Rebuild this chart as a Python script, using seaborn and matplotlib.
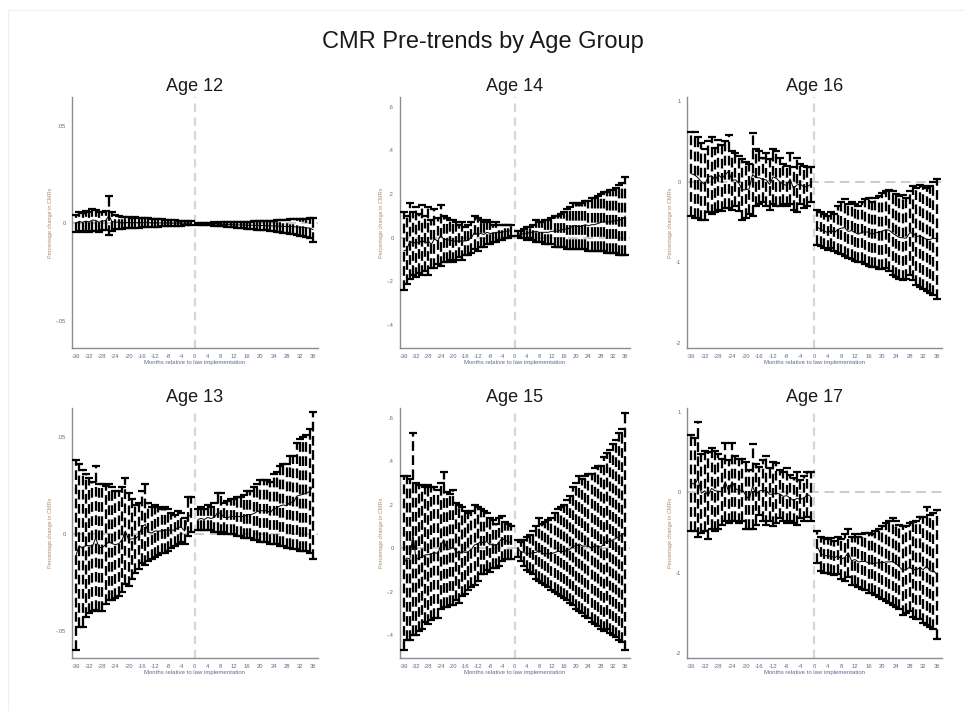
import numpy as np
import pandas as pd
import matplotlib
matplotlib.use("Agg")
import matplotlib.pyplot as plt
from matplotlib.lines import Line2D
import seaborn as sns

sns.set_style("white")
plt.rcParams["font.family"] = ["Liberation Sans", "DejaVu Sans"]
plt.rcParams["lines.scale_dashes"] = False

# ---------------- data ----------------
months = list(range(-36, 0)) + list(range(1, 37))
xticks = list(range(-36, 37, 4))

# Age 12
age12_hi = [.0045, .0060, .0055, .0062, .0058, .0075, .0070, .0058, .0060, .0065, .0140, .0058,
            .0045, .0040, .0035, .0032, .0035, .0030, .0033, .0028, .0030, .0026, .0028, .0024,
            .0025, .0022, .0022, .0018, .0020, .0016, .0016, .0014, .0015, .0013, .0013, .0012,
            .0004, .0004, .0005, .0004, .0005, .0006, .0005, .0006, .0007, .0006, .0007, .0008,
            .0008, .0007, .0009, .0009, .0010, .0011, .0011, .0012, .0013, .0013, .0014, .0015,
            .0016, .0018, .0018, .0019, .0021, .0021, .0022, .0024, .0024, .0025, .0027, .0030]
age12_lo = [-.0042, -.0040, -.0043, -.0038, -.0042, -.0040, -.0038, -.0045, -.0036, -.0035, -.0060, -.0040,
            -.0030, -.0028, -.0027, -.0025, -.0024, -.0024, -.0022, -.0022, -.0020, -.0020, -.0018, -.0019,
            -.0016, -.0017, -.0015, -.0015, -.0013, -.0013, -.0012, -.0011, -.0011, -.0010, -.0010, -.0009,
            -.0006, -.0007, -.0008, -.0010, -.0010, -.0011, -.0013, -.0015, -.0015, -.0017, -.0019, -.0020,
            -.0022, -.0023, -.0024, -.0027, -.0027, -.0030, -.0031, -.0032, -.0035, -.0036, -.0038, -.0041,
            -.0042, -.0045, -.0047, -.0050, -.0052, -.0056, -.0058, -.0062, -.0065, -.0070, -.0074, -.0094]

# Age 13
age13_hi = [.038, .036, .033, .031, .029, .027, .035, .026, .026, .025, .026, .024,
            .022, .022, .024, .029, .021, .018, .015, .016, .022, .026, .016, .014,
            .015, .014, .013, .014, .013, .011, .010, .012, .011, .008, .019, .019,
            .013, .014, .013, .015, .014, .016, .021, .021, .016, .017, .018, .018,
            .019, .019, .020, .022, .022, .024, .026, .028, .028, .028, .027, .031,
            .032, .035, .036, .036, .040, .040, .047, .049, .050, .051, .054, .063]
age13_lo = [-.060, -.048, -.048, -.043, -.041, -.040, -.039, -.040, -.040, -.036, -.034, -.034,
            -.033, -.032, -.030, -.026, -.027, -.023, -.020, -.018, -.015, -.016, -.014, -.013,
            -.012, -.011, -.010, -.010, -.009, -.007, -.006, -.005, -.004, -.005, -.001, .001,
            .002, .002, .002, .002, .002, .001, .001, .000, .001, .000, .000, .000,
            -.001, -.001, -.002, -.002, -.002, -.003, -.003, -.004, -.004, -.004, -.005, -.005,
            -.005, -.006, -.006, -.007, -.007, -.008, -.008, -.009, -.009, -.009, -.010, -.013]

# Age 14
age14_hi = [.12, .10, .16, .12, .14, .11, .15, .10, .14, .08, .13, .09,
            .15, .10, .09, .08, .08, .07, .06, .07, .05, .06, .07, .10,
            .09, .08, .07, .08, .07, .06, .07, .06, .06, .06, .06, .06,
            .03, .03, .04, .05, .05, .06, .08, .07, .07, .08, .08, .09,
            .10, .10, .11, .12, .13, .14, .16, .16, .15, .16, .17, .17,
            .18, .18, .19, .20, .21, .21, .22, .22, .23, .24, .25, .28]
age14_lo = [-.24, -.21, -.19, -.17, -.18, -.16, -.17, -.15, -.17, -.14, -.14, -.12,
            -.13, -.11, -.11, -.10, -.11, -.10, -.09, -.10, -.08, -.08, -.07, -.05,
            -.06, -.04, -.04, -.03, -.03, -.02, -.02, -.01, -.01, .00, .00, .01,
            .01, .00, .00, -.01, .00, -.01, -.02, -.02, -.02, -.03, -.03, -.03,
            -.04, -.04, -.04, -.04, -.05, -.05, -.05, -.05, -.05, -.05, -.05, -.06,
            -.06, -.06, -.06, -.06, -.06, -.07, -.07, -.07, -.07, -.08, -.08, -.08]

# Age 15
age15_hi = [.33, .33, .32, .53, .30, .29, .29, .28, .29, .28, .28, .27,
            .30, .35, .26, .25, .27, .21, .20, .19, .17, .16, .17, .20,
            .19, .18, .17, .16, .14, .13, .11, .14, .15, .12, .11, .10,
            .04, .03, .04, .05, .06, .08, .10, .14, .11, .12, .13, .14,
            .16, .18, .19, .20, .22, .24, .28, .30, .33, .32, .33, .34,
            .34, .37, .38, .38, .42, .44, .45, .48, .50, .53, .55, .62]
age15_lo = [-.47, -.42, -.42, -.40, -.40, -.38, -.37, -.34, -.35, -.33, -.32, -.32,
            -.28, -.27, -.27, -.26, -.26, -.24, -.25, -.22, -.21, -.19, -.18, -.17,
            -.15, -.12, -.12, -.10, -.11, -.09, -.09, -.08, -.06, -.05, -.05, -.05,
            -.04, -.06, -.08, -.10, -.11, -.12, -.14, -.15, -.16, -.17, -.18, -.19,
            -.20, -.21, -.22, -.23, -.24, -.25, -.26, -.28, -.29, -.30, -.31, -.32,
            -.34, -.35, -.36, -.37, -.38, -.37, -.39, -.40, -.41, -.42, -.43, -.47]

# Age 16
age16_hi = [.62, .62, .55, .48, .40, .50, .55, .42, .52, .45, .50, .58,
            .38, .35, .32, .28, .25, .22, .60, .40, .38, .30, .35, .28,
            .40, .38, .30, .22, .20, .35, .18, .30, .22, .20, .18, .18,
            -.35, -.38, -.40, -.42, -.38, -.40, -.30, -.25, -.22, -.28, -.25, -.28,
            -.30, -.25, -.22, -.20, -.25, -.20, -.18, -.14, -.12, -.10, -.12, -.15,
            -.18, -.17, -.20, -.12, -.05, -.08, -.04, -.05, -.08, -.05, .00, .04]
age16_lo = [-.42, -.45, -.45, -.48, -.47, -.38, -.40, -.37, -.35, -.36, -.33, -.32,
            -.35, -.30, -.36, -.48, -.45, -.40, -.42, -.30, -.28, -.25, -.30, -.35,
            -.28, -.30, -.30, -.28, -.30, -.28, -.35, -.38, -.28, -.33, -.30, -.25,
            -.78, -.80, -.82, -.84, -.82, -.86, -.88, -.90, -.92, -.95, -.96, -.98,
            -1.00, -1.00, -1.02, -1.05, -1.06, -1.06, -1.08, -1.08, -1.07, -1.10, -1.15, -1.18,
            -1.20, -1.22, -1.20, -1.15, -1.22, -1.28, -1.30, -1.33, -1.35, -1.38, -1.40, -1.45]

# Age 17
age17_hi = [.72, .68, .88, .48, .52, .50, .55, .52, .48, .42, .62, .40,
            .62, .45, .42, .42, .38, .28, .60, .35, .32, .40, .45, .30,
            .38, .36, .28, .25, .30, .22, .18, .25, .15, .20, .25, .25,
            -.48, -.55, -.57, -.58, -.57, -.60, -.55, -.58, -.52, -.45, -.55, -.52,
            -.55, -.52, -.50, -.50, -.52, -.48, -.45, -.42, -.38, -.35, -.32, -.35,
            -.40, -.42, -.42, -.38, -.37, -.35, -.30, -.30, -.18, -.28, -.25, -.22]
age17_lo = [-.48, -.48, -.55, -.50, -.48, -.58, -.45, -.48, -.45, -.40, -.35, -.38,
            -.35, -.35, -.38, -.35, -.45, -.46, -.45, -.40, -.28, -.35, -.40, -.35,
            -.42, -.38, -.32, -.35, -.38, -.36, -.38, -.40, -.32, -.35, -.30, -.35,
            -.88, -.98, -1.00, -1.00, -1.02, -1.03, -1.02, -1.08, -1.10, -1.05, -1.15, -1.15,
            -1.18, -1.20, -1.22, -1.25, -1.25, -1.28, -1.30, -1.33, -1.35, -1.38, -1.40, -1.42,
            -1.45, -1.52, -1.50, -1.48, -1.55, -1.57, -1.58, -1.62, -1.65, -1.68, -1.70, -1.82]

panel_titles = ["Age 12", "Age 14", "Age 16", "Age 13", "Age 15", "Age 17"]
panel_hi = [age12_hi, age14_hi, age16_hi, age13_hi, age15_hi, age17_hi]
panel_lo = [age12_lo, age14_lo, age16_lo, age13_lo, age15_lo, age17_lo]

col_yticks = [[-0.05, 0, 0.05], [-0.4, -0.2, 0, 0.2, 0.4, 0.6], [-2, -1, 0, 1]]
col_yticklabels = [["-.05", "0", ".05"], ["-.4", "-.2", "0", ".2", ".4", ".6"], ["-2", "-1", "0", "1"]]
col_ylim = [(-0.064, 0.065), (-0.505, 0.645), (-2.06, 1.05)]

# ---------------- layout ----------------
W, H = 964, 711
fig = plt.figure(figsize=(W / 100, H / 100), dpi=100)
fig.patch.set_facecolor("white")

col_px = [(72, 318), (400, 630), (687, 942)]
row_px = [(97, 348), (408, 658)]

tick_col = "#9a9a9a"
lab_col = "#5d6b8c"

# faint outer frame
fig.add_artist(Line2D([8 / W, 8 / W], [0, 1 - 10 / H], transform=fig.transFigure, color="#efefef", lw=0.8))
fig.add_artist(Line2D([8 / W, 1], [1 - 10 / H, 1 - 10 / H], transform=fig.transFigure, color="#efefef", lw=0.8))

fig.text(0.5 + 1 / W, 1 - 42 / H, "CMR Pre-trends by Age Group", ha="center", va="center",
         fontsize=17, color="#1a1a1a")

for i in range(6):
    r, c = divmod(i, 3)
    x0, x1 = col_px[c]
    y0, y1 = row_px[r]
    ax = fig.add_axes([x0 / W, 1 - y1 / H, (x1 - x0) / W, (y1 - y0) / H])
    ax.set_facecolor("white")

    hi = np.array(panel_hi[i])
    lo = np.array(panel_lo[i])
    est = (hi + lo) / 2
    df = pd.DataFrame({"month": months, "hi": hi, "lo": lo, "est": est,
                       "period": ["pre" if m < 0 else "post" for m in months]})

    # reference lines
    ax.axvline(0, color="#d6d6d6", lw=1.6, ls=(0, (6, 4)), zorder=1)
    ax.axhline(0, color="#c4c4c4", lw=1.2, ls=(0, (7, 4)), zorder=1)

    # confidence intervals (dashed range caps)
    eb = ax.errorbar(df["month"], df["est"], yerr=[df["est"] - df["lo"], df["hi"] - df["est"]],
                     fmt="none", ecolor="black", elinewidth=1.65, capsize=2.6, capthick=1.6, zorder=3)
    eb.lines[2][0].set_linestyle((0, (7, 3.2)))

    # point estimates
    sns.lineplot(data=df, x="month", y="est", units="period", estimator=None,
                 color="black", lw=0.7, ax=ax, zorder=4, legend=False)

    ax.set_xlim(-37.2, 37.5)
    ax.set_ylim(*col_ylim[c])
    ax.set_xticks(xticks)
    ax.set_xticklabels([str(t) for t in xticks])
    ax.set_xticks(months + [0], minor=True)
    ax.set_yticks(col_yticks[c])
    ax.set_yticklabels(col_yticklabels[c])

    for s in ["top", "right"]:
        ax.spines[s].set_visible(False)
    for s in ["left", "bottom"]:
        ax.spines[s].set_color("#8c8c8c")
        ax.spines[s].set_linewidth(1.0)

    ax.tick_params(axis="both", which="major", direction="out", length=3, width=0.7,
                   color=tick_col, labelsize=4.2, labelcolor=lab_col, pad=1.5)
    ax.tick_params(axis="x", which="minor", direction="out", length=2, width=0.5, color=tick_col)
    ax.tick_params(axis="y", which="minor", length=0)

    ax.set_xlabel("Months relative to law implementation", fontsize=4.3, color=lab_col, labelpad=0.5)
    ax.set_ylabel("Percentage change in CMRs", fontsize=4.0, color="#b08a6a", labelpad=2)
    ax.set_title(panel_titles[i], fontsize=13, color="#1a1a1a", pad=4)

fig.savefig("out.png", dpi=100, facecolor="white")
